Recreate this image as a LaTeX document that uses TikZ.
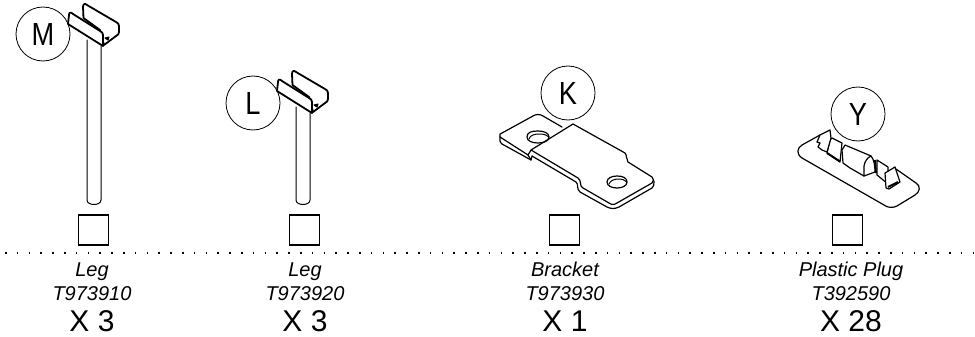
\documentclass[tikz,border=0pt]{standalone}
\usepackage{fontspec}
\usepackage{graphicx}
\setmainfont{Liberation Sans}
\tikzset{
  part/.style={line width=1.8pt,line join=round,line cap=round},
  sheet/.style={line width=1.2pt,line join=round,line cap=round},
  thin part/.style={line width=1pt,line join=round,line cap=round},
  tag/.style={circle,draw=black,fill=white,line width=.8pt,minimum size=54pt,inner sep=0pt},
  tick box/.style={draw=black,line width=1.2pt,minimum size=30pt,inner sep=0pt},
  name text/.style={font=\itshape\fontsize{20}{20}\selectfont,inner sep=0pt,anchor=base},
  count text/.style={font=\fontsize{30}{30}\selectfont,inner sep=0pt,anchor=base},
}
\newcommand{\tagtext}[1]{\scalebox{.85}[1]{\fontsize{32}{32}\selectfont #1}}
\newcommand{\legpart}[3]{%
  \begin{scope}[shift={(#1,#2)}]
    \draw[thin part] (87,40) -- (87,#3-7) .. controls (87,#3-1) and (101,#3-1) .. (101,#3-7) -- (101,46);
    \draw[part,fill=white] (83.5,18) -- (83,7) .. controls (83,4) and (85,3) .. (87,5) -- (116,22)
      .. controls (118,23) and (119,24) .. (119,26) -- (119,32) .. controls (119,34) and (118,35) .. (116,36) -- (104,45) -- (100,30) -- cycle;
    \draw[thin part,fill=black] (105,38) -- (109,37) -- (108,40) -- cycle;
    \draw[part,fill=white] (68,24) -- (69,15) .. controls (69,12) and (71,12) .. (73,14) -- (100,31)
      .. controls (102,32) and (103,33) .. (103,35) -- (103,46) -- cycle;
  \end{scope}}
\begin{document}
\begin{tikzpicture}[x=1pt,y=-1pt]
\useasboundingbox (0,0) rectangle (975,337);
% tag circles M and L lie under their brackets
\node[tag] (tagM) at (43,34) {\tagtext{M}};
\node[tag] (tagL) at (253,103) {\tagtext{L}};
\legpart{0}{0}{207}
\legpart{209}{67}{140}
% bracket K
\draw[sheet] (500,137) .. controls (499,134) and (500,134) .. (502,133) -- (533,116)
  .. controls (536,114) and (540,114) .. (543,116) -- (562,127);
\draw[sheet] (500,137) -- (528,155) -- (531,150) -- (573,124) -- (625,153)
  .. controls (627,155) and (626,159) .. (628,162) -- (652,177)
  .. controls (654,179) and (654,181) .. (652,183) -- (617,203)
  .. controls (614,205) and (612,205) .. (609,203) -- (583,188)
  .. controls (579,186) and (582,181) .. (578,178) -- (531,150);
\draw[sheet] (500,137) -- (500,141) .. controls (500,142) and (501,143) .. (502,144) -- (531,160) -- (532,156) -- (576,182)
  .. controls (579,184) and (576,189) .. (580,192) -- (607,207)
  .. controls (611,209) and (615,209) .. (619,207) -- (652,188) .. controls (654,187) and (654,184) .. (654,181);
\draw[sheet] (528,155) -- (531,160);
\draw[sheet] (527,137) .. controls (527,132) and (532,131) .. (538,131) .. controls (544,131) and (549,133) .. (549,137)
  .. controls (549,141) and (544,143) .. (538,143) .. controls (532,143) and (527,141) .. cycle;
\draw[thin part] (529,139) .. controls (530,135) and (535,134) .. (539,134) .. controls (544,134) and (547,135) .. (549,137);
\draw[sheet] (607,182) .. controls (607,178) and (612,176) .. (617,176) .. controls (623,176) and (627,178) .. (627,182)
  .. controls (627,186) and (622,188) .. (617,188) .. controls (612,188) and (607,186) .. cycle;
\draw[thin part] (609,184) .. controls (610,181) and (614,179) .. (618,179) .. controls (622,179) and (625,180) .. (627,182);
\node[tag] (tagK) at (568,93) {\tagtext{K}};
% plug Y: base plate
\draw[sheet] (820,135) -- (802,145) .. controls (797,148) and (796,154) .. (802,158) -- (884,205)
  .. controls (888,208) and (893,208) .. (897,206) -- (915,195)
  .. controls (920,192) and (921,186) .. (916,183) -- (896,169);
% left clip, block
\draw[sheet,fill=white] (832,138) -- (842,143) -- (840,162) -- (827,153) -- (830,140) -- cycle;
\draw[line width=2pt] (827,153) -- (840,161.5);
% left clip, tab
\draw[sheet,fill=white] (820,135) -- (830,130) -- (831,138) -- (827,152) -- (822,150) -- (818,147) -- (820,143) -- (817,142) -- cycle;
% half cylinder
\draw[sheet,fill=white] (845,145) -- (871,156) .. controls (874,159) and (875,166) .. (875,172) -- (864,176) -- (850,168) -- (843,163) -- (842,150) -- cycle;
\draw[sheet] (864,176) -- (864,166) .. controls (865,161) and (867,158) .. (871,156);
\draw[line width=1.8pt] (875,160) -- (876,173);
% right clip, block
\draw[sheet,fill=white] (877,160) -- (888,167) -- (888,184) -- (877,175) -- cycle;
% right clip, tab
\draw[sheet,fill=white] (885,173) -- (895,167) -- (900,182) -- (889,189) -- (886,188) -- cycle;
\draw[line width=1.8pt] (888,187) -- (898,182);
\node[tag] (tagY) at (858,114) {\tagtext{Y}};
% check boxes
\node[tick box] (boxA) at (93.5,230) {};
\node[tick box] (boxB) at (304.5,230) {};
\node[tick box] (boxC) at (564.5,230) {};
\node[tick box] (boxD) at (847.5,230) {};
% dotted rule
\coordinate (ruleA) at (5,253);
\coordinate (ruleB) at (975,253);
\draw[line width=1.5pt,dash pattern=on 1.5pt off 10.3pt] (ruleA) -- (ruleB);
% captions
\node[name text] (nameA) at (92,276) {Leg};
\node[name text] (codeA) at (92,300) {T973910};
\node[count text] (countA) at (92,331) {X 3};
\node[name text] (nameB) at (305,276) {Leg};
\node[name text] (codeB) at (305,300) {T973920};
\node[count text] (countB) at (305,331) {X 3};
\node[name text] (nameC) at (565,276) {Bracket};
\node[name text] (codeC) at (565,300) {T973930};
\node[count text] (countC) at (565,331) {X 1};
\node[name text] (nameD) at (851,276) {Plastic Plug};
\node[name text] (codeD) at (851,300) {T392590};
\node[count text] (countD) at (851,331) {X 28};
\end{tikzpicture}
\end{document}
